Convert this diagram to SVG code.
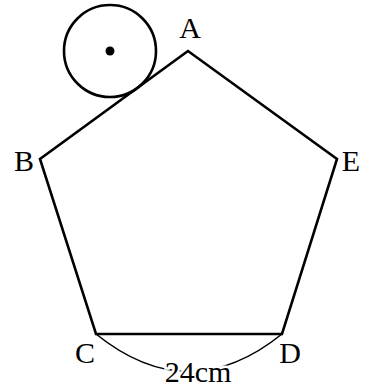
<svg xmlns="http://www.w3.org/2000/svg" width="374" height="387" viewBox="0 0 374 387">
<style>
.lbl{font-family:"Liberation Serif","Times New Roman",serif;font-size:30px;fill:#000}
.edge{fill:none;stroke:#000;stroke-width:2.6;stroke-linejoin:miter}
</style>
<rect width="374" height="387" fill="#fff"/>
<g id="connectors">
<polygon class="edge" points="188,51 40,159 96,334 282,334 337,159"/>
<path d="M96,334 Q189,409 282,334" fill="none" stroke="#000" stroke-width="1.6"/>
</g>
<g id="circle">
<circle cx="110" cy="51" r="46" fill="none" stroke="#000" stroke-width="2.6"/>
<circle cx="110" cy="51" r="4.5" fill="#000"/>
</g>
<g id="A"><text class="lbl" x="190" y="38" text-anchor="middle">A</text></g>
<g id="B"><text class="lbl" x="24" y="171" text-anchor="middle">B</text></g>
<g id="E"><text class="lbl" x="351" y="171" text-anchor="middle">E</text></g>
<g id="C"><text class="lbl" x="85" y="363" text-anchor="middle">C</text></g>
<g id="D"><text class="lbl" x="290" y="363" text-anchor="middle">D</text></g>
<g id="len"><text class="lbl" x="198" y="382" text-anchor="middle" stroke="#fff" stroke-width="5" paint-order="stroke">24cm</text></g>
</svg>
